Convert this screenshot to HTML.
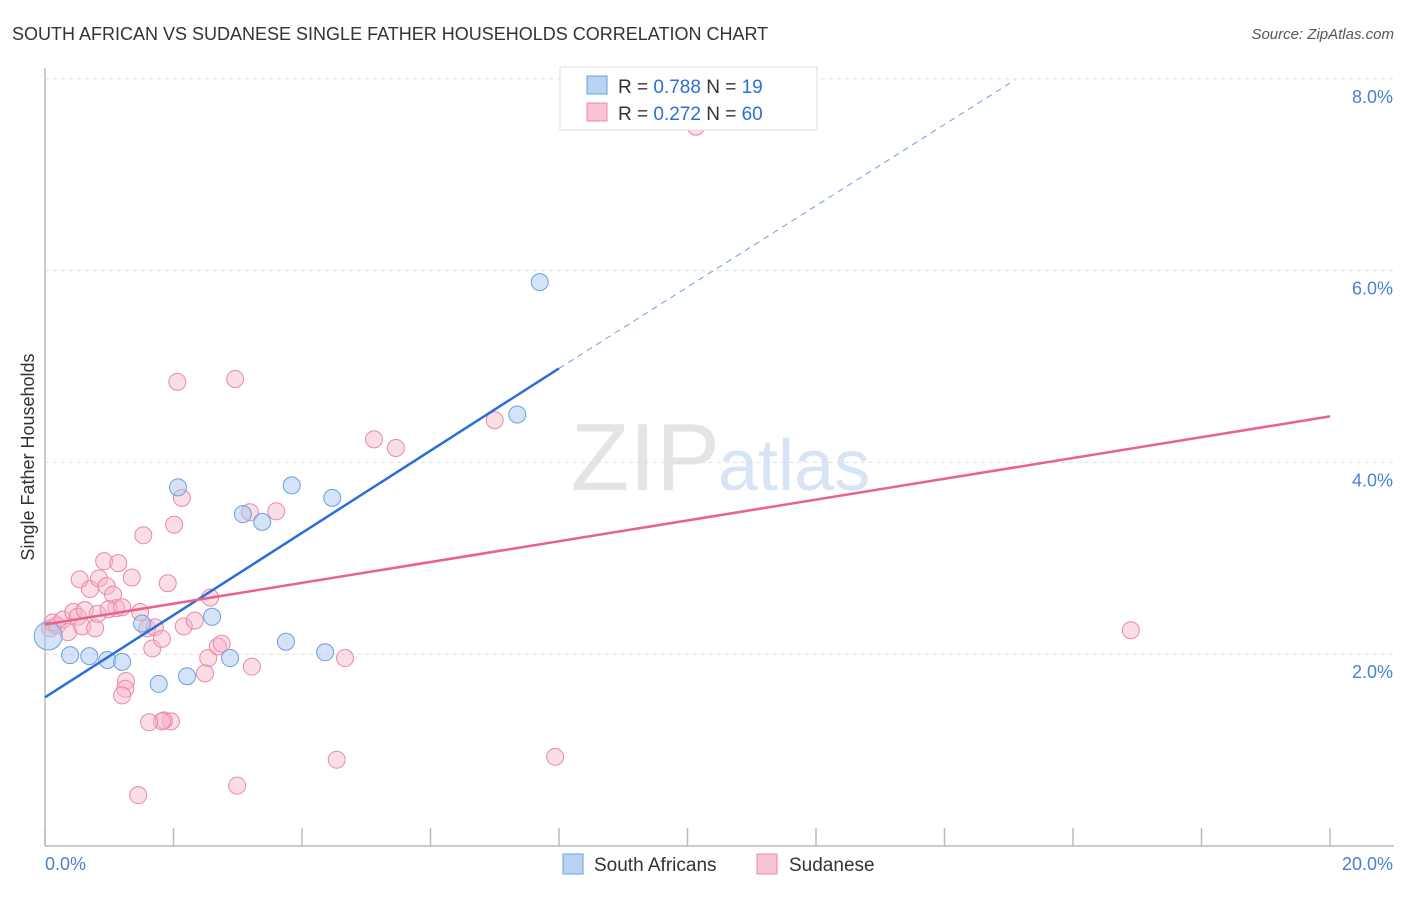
<!DOCTYPE html>
<html><head><meta charset="utf-8"><style>
body{margin:0;background:#fff;font-family:"Liberation Sans",sans-serif}
svg text{font-family:"Liberation Sans",sans-serif}
</style></head><body>
<svg id="chart" width="1406" height="892" xmlns="http://www.w3.org/2000/svg">
<text x="12" y="40" font-size="18" fill="#333">SOUTH AFRICAN VS SUDANESE SINGLE FATHER HOUSEHOLDS CORRELATION CHART</text>
<text x="1394" y="39" font-size="15" fill="#555" font-style="italic" text-anchor="end">Source: ZipAtlas.com</text>
<text x="720" y="490" font-size="96" fill="#e4e4e4" text-anchor="end" font-family="Liberation Serif">ZIP</text>
<text x="718" y="490" font-size="72" fill="#d6e4f5">atlas</text>
<g id="grid"></g>
<line x1="45" y1="68" x2="45" y2="846" stroke="#bbb" stroke-width="1.5"/>
<line x1="45" y1="846" x2="1394" y2="846" stroke="#bbb" stroke-width="1.5"/>
<g id="xticks"></g>
<text transform="translate(34,457) rotate(-90)" font-size="18" fill="#333" text-anchor="middle">Single Father Households</text>
<text x="45" y="870" font-size="18" fill="#4a7fd4">0.0%</text>
<text x="1393" y="870" font-size="18" fill="#4a7fd4" text-anchor="end">20.0%</text>
<g id="pts"></g>
<g id="lines"></g>
<g>
<rect x="560" y="67" width="257" height="63" fill="#fff" stroke="#ddd"/>
<rect x="587" y="76" width="20" height="18" fill="#b8d4f2" stroke="#6a9fe0"/>
<rect x="587" y="103" width="20" height="18" fill="#f9c3d2" stroke="#e88aa5"/>
<text x="618" y="93" font-size="19" fill="#333">R = <tspan fill="#2a6fd6">0.788</tspan>   N =  <tspan fill="#2a6fd6">19</tspan></text>
<text x="618" y="120" font-size="19" fill="#333">R = <tspan fill="#2a6fd6">0.272</tspan>   N = <tspan fill="#2a6fd6">60</tspan></text>
</g>
<g>
<rect x="563" y="854" width="20" height="20" fill="#b8d4f2" stroke="#6a9fe0"/>
<text x="594" y="871" font-size="19" fill="#333">South Africans</text>
<rect x="757" y="854" width="20" height="20" fill="#f9c3d2" stroke="#e88aa5"/>
<text x="789" y="871" font-size="19" fill="#333">Sudanese</text>
</g>
</svg>
<script>
const yTicks=[2,4,6,8];
const yTickLabels=["2.0%","4.0%","6.0%","8.0%"];
const xTicks=[0,2,4,6,8,10,12,14,16,18,20];
const saX=[0.05,0.39,0.69,0.97,1.2,1.51,1.77,2.07,2.21,2.6,2.88,3.08,3.38,3.75,3.84,4.36,4.47,7.35,7.7];
const saY=[2.19,1.99,1.98,1.94,1.92,2.32,1.69,3.74,1.77,2.39,1.96,3.46,3.38,2.13,3.76,2.02,3.63,4.5,5.88];
const sdX=[0.08,0.12,0.19,0.28,0.36,0.44,0.51,0.58,0.62,0.78,0.54,0.7,0.84,0.92,0.96,1.06,1.11,0.82,0.99,1.14,1.2,1.35,1.48,1.53,1.59,1.67,1.71,1.82,2.01,1.91,2.13,2.06,1.96,1.85,1.82,1.62,1.26,1.25,1.2,1.45,2.54,2.57,2.69,2.75,2.49,2.16,2.33,2.96,3.19,3.6,3.22,2.99,4.67,4.54,5.12,5.46,7.0,7.94,10.13,16.9];
const sdY=[2.27,2.33,2.3,2.36,2.23,2.44,2.39,2.29,2.46,2.27,2.78,2.68,2.79,2.97,2.71,2.62,2.48,2.42,2.47,2.95,2.49,2.8,2.44,3.24,2.27,2.06,2.28,2.16,3.35,2.74,3.63,4.84,1.30,1.31,1.30,1.29,1.72,1.64,1.57,0.53,1.96,2.59,2.08,2.11,1.80,2.29,2.35,4.87,3.48,3.49,1.87,0.63,1.96,0.9,4.24,4.15,4.44,0.93,7.5,2.25];
const saFitX=[0,8],saFitY=[1.55,4.98],saDashX=[8,15.1],saDashY=[4.98,7.99];
const sdFitX=[0,20],sdFitY=[2.31,4.48];
const X=v=>45+v*64.25, Y=v=>846-v*95.9;
const NS='http://www.w3.org/2000/svg';
function mk(t,a,p){const e=document.createElementNS(NS,t);for(const k in a)e.setAttribute(k,a[k]);p.appendChild(e);return e;}
const grid=document.getElementById('grid');
yTicks.forEach((t,i)=>{
 const l=mk('line',{x1:45,x2:1394,y1:Y(t),y2:Y(t),stroke:'#ddd','stroke-dasharray':'4,4'},grid);
 
 
 const tx=mk('text',{x:1393,y:Y(t)+24,'font-size':18,fill:'#4a7fd4','text-anchor':'end'},grid);
 tx.textContent=yTickLabels[i];
 
 
});
const xt=document.getElementById('xticks');
xTicks.forEach(t=>{
 const l=mk('line',{x1:X(t),x2:X(t),y1:828,y2:846,stroke:'#bbb','stroke-width':1.5},xt);
 
 
});
const pts=document.getElementById('pts');
sdX.forEach((v,i)=>{
 const c=mk('circle',{cx:X(v),cy:Y(sdY[i]),r:8.5,fill:'rgba(247,180,200,0.45)',stroke:'#e88aa5','stroke-width':1},pts);
 
 
});
saX.forEach((v,i)=>{
 const c=mk('circle',{cx:X(v),cy:Y(saY[i]),r:i==0?14:8.5,fill:'rgba(170,200,240,0.5)',stroke:'#6a9fe0','stroke-width':1},pts);
 
 
});
const ln=document.getElementById('lines');
let a=mk('line',{x1:X(saFitX[0]),y1:Y(saFitY[0]),x2:X(saFitX[1]),y2:Y(saFitY[1]),stroke:'#2a6fd6','stroke-width':2.5},ln);


a=mk('line',{x1:X(saDashX[0]),y1:Y(saDashY[0]),x2:X(saDashX[1]),y2:Y(saDashY[1]),stroke:'#6a9fe0','stroke-width':1,'stroke-dasharray':'6,5'},ln);


a=mk('line',{x1:X(sdFitX[0]),y1:Y(sdFitY[0]),x2:X(sdFitX[1]),y2:Y(sdFitY[1]),stroke:'#e8628e','stroke-width':2.5},ln);


</script>
</body></html>
